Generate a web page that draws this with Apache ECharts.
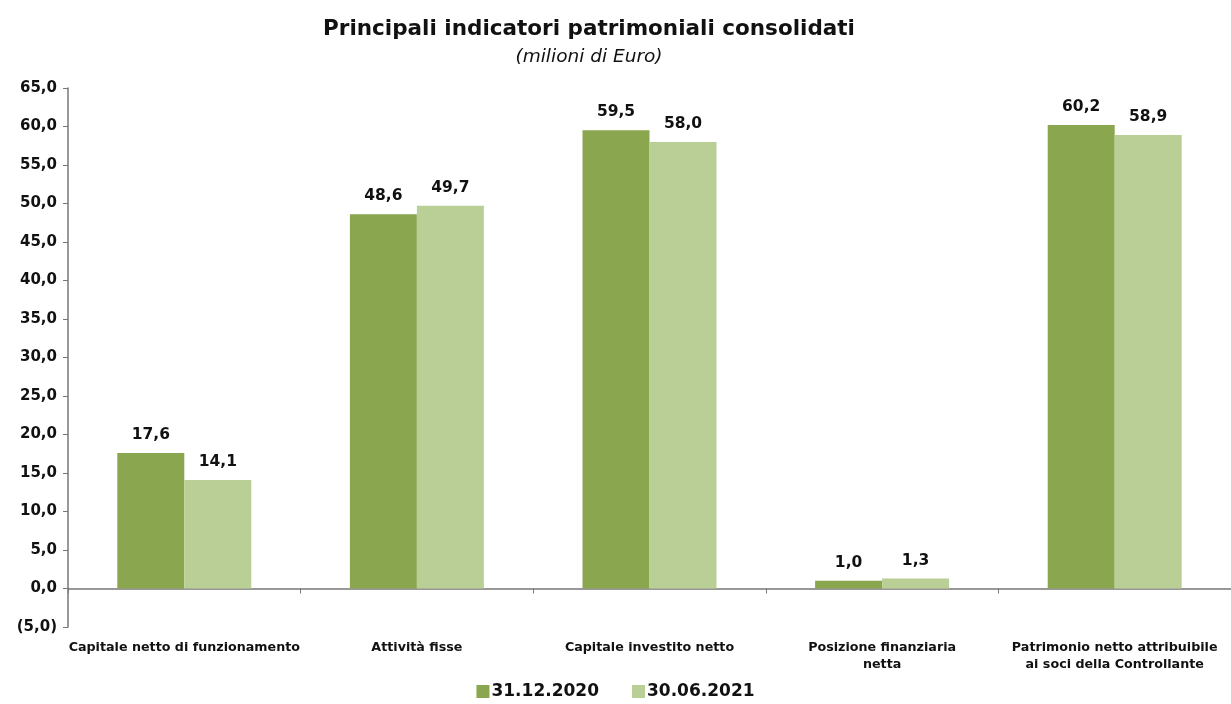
<!DOCTYPE html>
<html><head><meta charset="utf-8">
<script src="https://cdn.jsdelivr.net/npm/echarts@6/dist/echarts.min.js"></script>
<style>html,body{margin:0;padding:0;background:#fff}#c{width:1231px;height:704px}</style>
</head><body><div id="c"></div>
<script>
const categories = ["Capitale netto di funzionamento","Attività fisse","Capitale investito netto","Posizione finanziaria\nnetta","Patrimonio netto attribuibile\nai soci della Controllante"];
const series2020 = [17.6, 48.6, 59.5, 1.0, 60.2];
const series2021 = [14.1, 49.7, 58.0, 1.3, 58.9];
const seriesNames = ["31.12.2020","30.06.2021"];
const FONT = "DejaVu Sans";
function fmt(v){ const s = Math.abs(v).toFixed(1).replace('.', ','); return v < 0 ? '(' + s + ')' : s; }
const chart = echarts.init(document.getElementById('c'), null, {renderer:'canvas'});
const lbl = {show:true, position:'top', distance:10, color:'#111', fontFamily:FONT, fontWeight:'bold', fontSize:15.5, formatter:p=>fmt(p.value)};
chart.setOption({
  animation:false,
  title:{text:'Principali indicatori patrimoniali consolidati', subtext:'(milioni di Euro)', left:584, textAlign:'center', top:13, itemGap:8,
    textStyle:{fontFamily:FONT, fontSize:21.5, fontWeight:'bold', color:'#111'},
    subtextStyle:{fontFamily:FONT, fontSize:18.5, fontStyle:'italic', color:'#111'}},
  legend:{bottom:-1, left:'center', itemWidth:13, itemHeight:13, itemGap:33, icon:'rect',
    textStyle:{fontFamily:FONT, fontSize:17, fontWeight:'bold', color:'#111', padding:[0,0,0,-3]}},
  grid:{left:68, top:88, bottom:77, right:0},
  xAxis:[
    {type:'category', data:categories, position:'bottom', axisLine:{onZero:true, lineStyle:{color:'#777', width:1.5}},
     axisTick:{show:true, length:5, lineStyle:{color:'#777'}}, axisLabel:{show:false}},
    {type:'category', data:categories, position:'bottom', axisLine:{show:false, onZero:false}, axisTick:{show:false},
     axisLabel:{show:true, interval:0, margin:12, fontFamily:FONT, fontSize:12.7, fontWeight:'bold', color:'#111', lineHeight:17}}
  ],
  yAxis:{type:'value', min:-5, max:65, interval:5, splitLine:{show:false},
    axisLine:{show:true, lineStyle:{color:'#777', width:1.5}}, axisTick:{show:true, length:5, lineStyle:{color:'#777'}},
    axisLabel:{margin:11, formatter:fmt, fontFamily:FONT, fontSize:15, fontWeight:'bold', color:'#111'}},
  series:[
    {name:seriesNames[0], type:'bar', data:series2020, barWidth:67, barGap:'0%', itemStyle:{color:'#8aa64e'}, label:lbl},
    {name:seriesNames[1], type:'bar', data:series2021, barWidth:67, itemStyle:{color:'#b9cf96'}, label:lbl}
  ]
});
</script></body></html>
